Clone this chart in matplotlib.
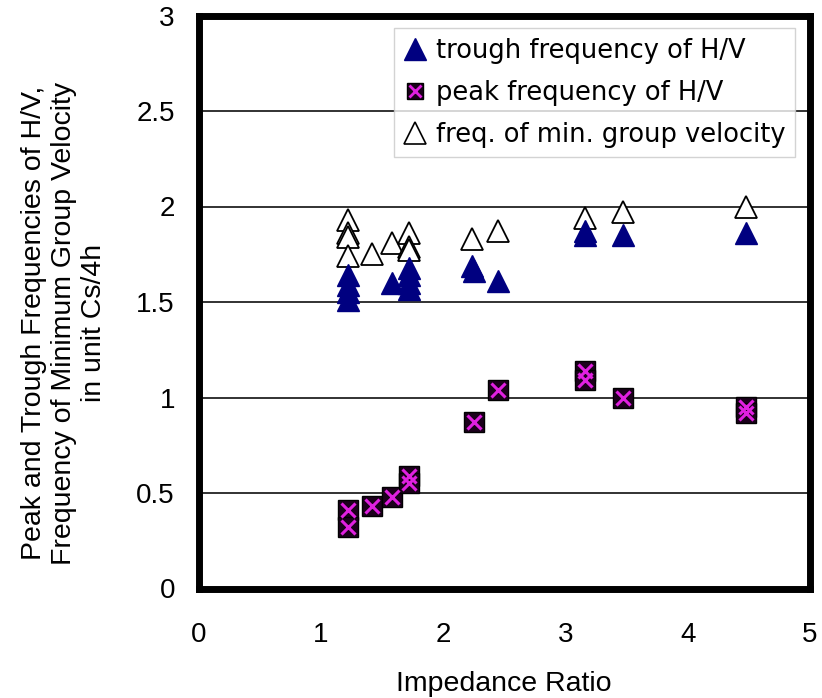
import matplotlib
matplotlib.use("Agg")
import matplotlib.pyplot as plt
from matplotlib.lines import Line2D

# impedance ratio / frequency (unit Cs/4h) for each series
trough_x = [1.22, 1.22, 1.22, 1.22, 1.58, 1.72, 1.72, 1.72, 1.72, 2.24, 2.25, 2.45, 3.16, 3.16, 3.47, 4.48]
trough_y = [1.64, 1.59, 1.55, 1.51, 1.60, 1.68, 1.64, 1.60, 1.57, 1.69, 1.66, 1.61, 1.87, 1.85, 1.85, 1.86]

peak_x = [1.22, 1.22, 1.42, 1.58, 1.72, 1.72, 2.25, 2.45, 3.16, 3.16, 3.47, 4.48, 4.48]
peak_y = [0.41, 0.32, 0.43, 0.48, 0.59, 0.55, 0.87, 1.04, 1.14, 1.09, 1.00, 0.95, 0.92]

mingv_x = [1.22, 1.22, 1.22, 1.22, 1.42, 1.58, 1.72, 1.72, 1.72, 2.24, 2.45, 3.16, 3.47, 4.48]
mingv_y = [1.93, 1.86, 1.84, 1.74, 1.75, 1.81, 1.86, 1.79, 1.77, 1.83, 1.87, 1.94, 1.97, 2.00]

xticks = [0, 1, 2, 3, 4, 5]
yticks = [0, 0.5, 1, 1.5, 2, 2.5, 3]
ytick_labels = ["0", "0.5", "1", "1.5", "2", "2.5", "3"]

plt.rcParams["font.family"] = ["Liberation Sans", "DejaVu Sans"]

fig = plt.figure(figsize=(8.22, 6.98), dpi=100)
ax = fig.add_axes([198.5 / 822, 1 - 588.5 / 698, (810 - 198.5) / 822, (588.5 - 15.5) / 698])

ax.plot(mingv_x, mingv_y, linestyle="none", marker="^", ms=16,
        mfc="white", mec="black", mew=1.3, zorder=3)
ax.plot(trough_x, trough_y, linestyle="none", marker="^", ms=16,
        mfc="#000080", mec="#000080", zorder=4)
ax.plot(peak_x, peak_y, linestyle="none", marker="s", ms=14,
        mfc="#1c001c", mec="black", mew=1, zorder=5)
ax.plot(peak_x, peak_y, linestyle="none", marker="x", ms=10,
        mec="#e020e0", mew=2.2, zorder=6)

ax.set_xlim(0, 5)
ax.set_ylim(0, 3)
ax.set_xticks(xticks)
ax.set_yticks(yticks)
ax.set_yticklabels(ytick_labels)
ax.tick_params(length=0, labelsize=20)
ax.tick_params(axis="y", pad=17)
ax.tick_params(axis="x", pad=24)

for y in yticks[1:-1]:
    ax.axhline(y, color="#222222", lw=1.3, zorder=1)

for sp in ax.spines.values():
    sp.set_linewidth(5)
    sp.set_color("black")

ax.set_xlabel("Impedance Ratio", fontsize=20.5, labelpad=17)
fig.text(64 / 822, 1 - 323 / 698,
         "Peak and Trough Frequencies of H/V,\nFrequency of Minimum Group Velocity\nin unit Cs/4h",
         rotation=90, ha="center", va="center", multialignment="center",
         fontsize=20.5, linespacing=1.2)

h_trough = Line2D([], [], linestyle="none", marker="^", ms=16, mfc="#000080", mec="#000080")
h_sq = Line2D([], [], linestyle="none", marker="s", ms=12, mfc="#1c001c", mec="black")
h_x = Line2D([], [], linestyle="none", marker="x", ms=9, mec="#e020e0", mew=2)
h_open = Line2D([], [], linestyle="none", marker="^", ms=16, mfc="white", mec="black", mew=1.2)

leg = ax.legend([h_trough, (h_sq, h_x), h_open],
                ["trough frequency of H/V", "peak frequency of H/V", "freq. of min. group velocity"],
                loc="upper right", bbox_to_anchor=(0.9755, 0.978),
                prop={"family": "DejaVu Sans", "size": 18.5},
                frameon=True, fancybox=False, handlelength=0.9, handletextpad=0.35,
                labelspacing=0.62, borderpad=0.38, borderaxespad=0)
leg.get_frame().set_edgecolor("#c8c8c8")
leg.get_frame().set_linewidth(1)
leg.set_zorder(10)

fig.savefig("out.png", dpi=100)
